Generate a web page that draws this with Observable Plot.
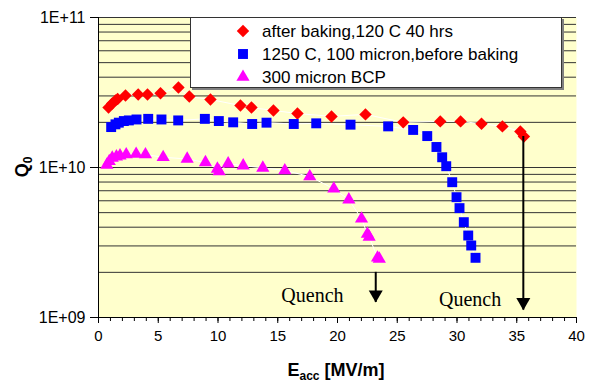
<!DOCTYPE html>
<html><head><meta charset="utf-8">
<script src="https://cdn.jsdelivr.net/npm/d3@7"></script>
<script src="https://cdn.jsdelivr.net/npm/@observablehq/plot@0.6"></script>
<style>body{margin:0;background:#fff;} #chart{width:590px;height:387px;}</style>
</head><body><div id="chart"></div><script>
// after baking, 120 C 40 hrs
const bakedX = [0.84,1.15,1.42,1.6,2.26,3.32,4.1,5.19,6.69,7.6,9.37,11.88,12.8,14.64,16.65,19.5,22.34,25.5,28.6,30.3,32.05,33.8,35.3,35.6];
const bakedQ = [2.51e10,2.67e10,2.8e10,2.86e10,3.02e10,3.07e10,3.07e10,3.13e10,3.41e10,2.97e10,2.84e10,2.59e10,2.51e10,2.4e10,2.29e10,2.19e10,2.26e10,2.0e10,2.03e10,2.03e10,1.96e10,1.88e10,1.74e10,1.61e10];
// 1250 C, 100 micron, before baking
const hotX = [1.06,1.42,1.7,2.12,2.54,3.18,4.16,5.27,6.67,8.9,10.07,11.27,12.86,14.06,16.34,18.22,21.09,24.24,26.33,27.51,28.28,28.76,29.1,29.6,29.96,30.21,30.57,30.94,31.19,31.55];
const hotQ = [1.86e10,1.94e10,1.99e10,2.04e10,2.06e10,2.09e10,2.11e10,2.09e10,2.06e10,2.11e10,2.04e10,2.0e10,1.95e10,1.99e10,1.95e10,1.97e10,1.93e10,1.88e10,1.78e10,1.62e10,1.37e10,1.17e10,1.02e10,7.98e9,6.34e9,5.36e9,4.32e9,3.52e9,3.02e9,2.5e9];
// 300 micron BCP
const bcpX = [0.7,0.9,1.15,1.5,1.8,2.32,3.15,3.93,5.41,7.42,8.95,9.95,10.1,10.85,12.11,13.75,15.59,17.68,19.69,20.95,22.01,22.5,22.65,23.35,23.5];
const bcpQ = [1.04e10,1.1e10,1.16e10,1.18e10,1.2e10,1.22e10,1.23e10,1.22e10,1.17e10,1.14e10,1.08e10,9.8e9,9.4e9,1.06e10,1.03e10,9.95e9,9.55e9,8.71e9,7.21e9,6.1e9,4.55e9,3.6e9,3.45e9,2.5e9,2.46e9];

const seriesNames = ["after baking,120 C 40 hrs","1250 C, 100 micron,before baking","300 micron BCP"];
const seriesColors = ["#FF0000","#0000FF","#FF00FF"];
const seriesSymbols = ["diamond2","square","triangle"];
const seriesR = [5.6,5.6,4.9];

const yGrid = [2e9,3e9,4e9,5e9,6e9,7e9,8e9,9e9,1e10,2e10,3e10,4e10,5e10,6e10,7e10,8e10,9e10,1e11];
const yMajor = [1e9,1e10,1e11];
const xMajor = [0,5,10,15,20,25,30,35,40];
const xMinor = d3.range(0,41,1);

// Quench annotations
const quenchTextX = [17.9, 31.1];
const quenchTextQ = [1.26e9, 1.2e9];
const arrowX = [23.2, 35.55];
const arrowTop = [2.0e9, 1.61e10];
const arrowTip = [1.26e9, 1.12e9];

const toRows = (xs, qs, s) => xs.map((x,i)=>({x, q: qs[i], s}));
const data = [
  ...toRows(bakedX, bakedQ, 0),
  ...toRows(hotX, hotQ, 1),
  ...toRows(bcpX, bcpQ, 2)
];
const arrows = arrowX.map((x,i)=>({x, top: arrowTop[i], tip: arrowTip[i]}));
const quench = quenchTextX.map((x,i)=>({x, q: quenchTextQ[i]}));

const font = "Liberation Sans, Arial, sans-serif";
const fmt = d => "1E+" + String(Math.round(Math.log10(d))).padStart(2,"0");

const plot = Plot.plot({
  width: 590, height: 387,
  marginLeft: 98, marginRight: 14, marginTop: 17, marginBottom: 70,
  style: {fontFamily: font, fontSize: "15px", background: "#fff", overflow: "visible"},
  x: {domain: [0, 40]},
  y: {type: "log", domain: [1e9, 1e11]},
  marks: [
    Plot.frame({fill: "#FFFFCC", stroke: null}),
    Plot.ruleY(yGrid, {stroke: "#333", strokeWidth: 1}),
    Plot.axisX({ticks: xMinor, tickSize: 4, tickFormat: () => "", label: null, stroke: "#000"}),
    Plot.axisX({ticks: xMajor, tickSize: 6, tickPadding: 7, label: null, fontSize: 15, stroke: "#000"}),
    Plot.axisY({ticks: yMajor, tickSize: 8, tickPadding: 5, tickFormat: fmt, label: null, fontSize: 16, stroke: "#000"}),
    Plot.ruleY([1e9], {stroke: "#000"}),
    Plot.ruleX([0], {stroke: "#000"}),
    ...[0,1,2].map(s => Plot.line(data.filter(d=>d.s===s), {x: "x", y: "q", stroke: "#fff", strokeWidth: 1})),
    ...[0,1,2].map(s => Plot.dot(data.filter(d=>d.s===s), {x: "x", y: "q", symbol: seriesSymbols[s], fill: seriesColors[s], stroke: null, r: seriesR[s]})),
    Plot.ruleX(arrows, {x: "x", y1: "top", y2: "tip", stroke: "#000", strokeWidth: 2}),
    Plot.dot(arrows, {x: "x", y: "tip", symbol: "triangle", r: 5.2, fill: "#000", stroke: null, rotate: 180, dy: -8}),
    Plot.text(quench, {x: "x", y: "q", text: () => "Quench", fontFamily: "Liberation Serif, Times New Roman, serif", fontSize: 20, textAnchor: "middle", lineAnchor: "bottom", fill: "#000"})
  ]
});

const svg = d3.select(plot);
// Legend
const lg = svg.append("g").attr("text-anchor", "start");
lg.append("rect").attr("x", 192).attr("y", 19).attr("width", 372).attr("height", 71).attr("fill", "#808080");
lg.append("rect").attr("x", 190.5).attr("y", 17.5).attr("width", 371).attr("height", 70).attr("fill", "#fff").attr("stroke", "#333").attr("stroke-width", 1);
const symMap = {diamond2: d3.symbolDiamond2, square: d3.symbolSquare, triangle: d3.symbolTriangle};
seriesNames.forEach((name, i) => {
  const cy = 31 + i * 23;
  lg.append("path").attr("transform", `translate(243,${cy})`)
    .attr("d", d3.symbol(symMap[seriesSymbols[i]], Math.PI * seriesR[i] * seriesR[i])())
    .attr("fill", seriesColors[i]);
  lg.append("text").attr("x", 262).attr("y", cy).attr("dy", "0.36em").attr("text-anchor", "start")
    .attr("font-family", font).attr("font-size", 17).attr("fill", "#000").text(name);
});
// Axis titles
const xt = svg.append("text").attr("x", 336).attr("y", 376).attr("text-anchor", "middle")
  .attr("font-family", font).attr("font-size", 18).attr("font-weight", "bold").attr("fill", "#000");
xt.append("tspan").text("E");
xt.append("tspan").attr("font-size", 12).attr("dy", 4).text("acc");
xt.append("tspan").attr("dy", -4).text(" [MV/m]");
const yt = svg.append("text").attr("transform", "translate(28,167) rotate(-90)").attr("text-anchor", "middle")
  .attr("font-family", font).attr("font-size", 18).attr("font-weight", "bold").attr("fill", "#000");
yt.append("tspan").text("Q");
yt.append("tspan").attr("font-size", 12).attr("dy", 4).text("0");

document.getElementById("chart").appendChild(plot);
</script></body></html>
